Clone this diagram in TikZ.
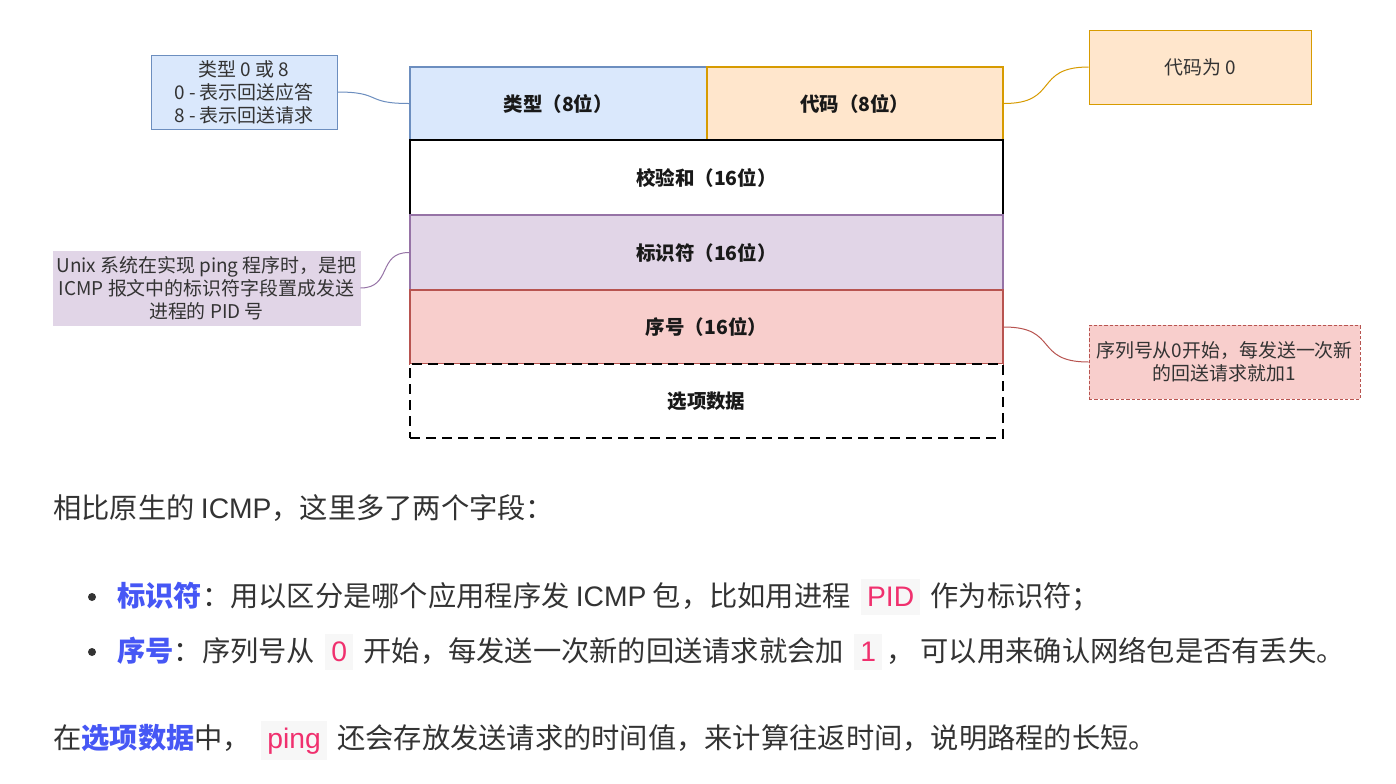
\documentclass[tikz,border=0pt]{standalone}
\usepackage{fontspec}
\newfontfamily\cjk{Noto Sans CJK SC}
\newfontfamily\latf{Liberation Sans}
\definecolor{typefill}{HTML}{DAE8FC}
\definecolor{typeline}{HTML}{6C8EBF}
\definecolor{codefill}{HTML}{FFE6CC}
\definecolor{codeline}{HTML}{D79B00}
\definecolor{idfill}{HTML}{E1D5E7}
\definecolor{idline}{HTML}{9673A6}
\definecolor{seqfill}{HTML}{F8CECC}
\definecolor{seqline}{HTML}{B85450}
\definecolor{textc}{HTML}{333333}
\definecolor{hl}{HTML}{4657F5}
\definecolor{codepink}{HTML}{F0306E}
\definecolor{codebg}{HTML}{F7F7F7}
\newcommand\mycode[1]{\hspace{3pt}{\setlength\fboxsep{4.5pt}\colorbox{codebg}{\color{codepink}\rule[-2pt]{0pt}{17.5pt}{\latf #1}}}\hspace{3pt}}
\newcommand\lat[1]{{\latf #1}}
\tikzset{
  field/.style={draw, line width=1.5pt, inner sep=0pt, minimum width=593*0.75pt,
    font=\cjk\fontsize{14.6pt}{17pt}\selectfont\bfseries, text=black!90},
  half/.style={field, minimum width=296.5*0.75pt},
  note/.style={draw, line width=0.75pt, inner sep=0pt, minimum height=74*0.75pt, align=center,
    font=\cjk\fontsize{14.2pt}{17.2pt}\selectfont, text=textc},
  link/.style={line width=0.75pt},
  body/.style={inner sep=0pt, anchor=base west, text=textc, font=\cjk\fontsize{21.2pt}{25pt}\selectfont},
}
\begin{document}
\begin{tikzpicture}[x=0.75pt,y=-0.75pt]
\useasboundingbox (0,0) rectangle (1396,783);
\fill[white] (0,0) rectangle (1396,783);

% header fields
\node[half, fill=typefill, draw=typeline, minimum height=73*0.75pt] (type) at (558.25,103.5) {类型（8位）};
\node[half, fill=codefill, draw=codeline, minimum height=73*0.75pt] (code) at (854.75,103.5) {代码（8位）};
\node[field, fill=white, minimum height=75*0.75pt] (sum) at (706.5,177.5) {校验和（16位）};
\node[field, fill=idfill, draw=idline, minimum height=75*0.75pt] (ident) at (706.5,252.5) {标识符（16位）};
\node[field, fill=seqfill, draw=seqline, minimum height=74*0.75pt] (seq) at (706.5,327) {序号（16位）};
\node[field, fill=white, dash pattern=on 7.5pt off 4.5pt, minimum height=74*0.75pt] (opt) at (706.5,401) {选项数据};

% notes
\node[note, fill=typefill, draw=typeline, minimum width=186*0.75pt] (n1) at (244,92) {类型 0 或 8\\0 - 表示回送应答\\8 - 表示回送请求};
\node[note, fill=codefill, draw=codeline, minimum width=222*0.75pt] (n2) at (1200,67) {代码为 0};
\node[note, fill=idfill, draw=idfill, minimum width=307*0.75pt] (n3) at (206.5,288) {Unix 系统在实现 ping 程序时，是把\\ICMP 报文中的标识符字段置成发送\\进程的 PID 号};
\node[note, fill=seqfill, draw=seqline, dash pattern=on 2.5pt off 1.5pt, minimum width=271*0.75pt] (n4) at (1224.5,362) {序列号从0开始，每发送一次新\\的回送请求就加1};

% connectors
\draw[link, typeline] (n1.east) .. controls +(45,0) and +(-45,0) .. (type.west);
\draw[link, codeline] (code.east) .. controls +(55,0) and +(-55,0) .. (n2.west);
\draw[link, idline] (n3.east) .. controls +(32,0) and +(-32,0) .. (ident.west);
\draw[link, seqline] (seq.east) .. controls +(55,0) and +(-55,0) .. (n4.west);

% text below
\node[body] (l1) at (53,518) {相比原生的 \lat{ICMP}，这里多了两个字段：};
\node[circle, fill=textc, inner sep=0pt, minimum size=8*0.75pt] (b1) at (92,597) {};
\node[body] (l2) at (117,606) {{\bfseries\color{hl}标识符}：用以区分是哪个应用程序发 \lat{ICMP} 包，比如用进程 \mycode{PID} 作为标识符；};
\node[circle, fill=textc, inner sep=0pt, minimum size=8*0.75pt] (b2) at (92,652) {};
\node[body] (l3) at (117,661) {{\bfseries\color{hl}序号}：序列号从 \mycode{0} 开始，每发送一次新的回送请求就会加 \mycode{1}， 可以用来确认网络包是否有丢失。};
\node[body] (l4) at (53,748) {在{\bfseries\color{hl}选项数据}中， \mycode{ping} 还会存放发送请求的时间值，来计算往返时间，说明路程的长短。};
\end{tikzpicture}
\end{document}
